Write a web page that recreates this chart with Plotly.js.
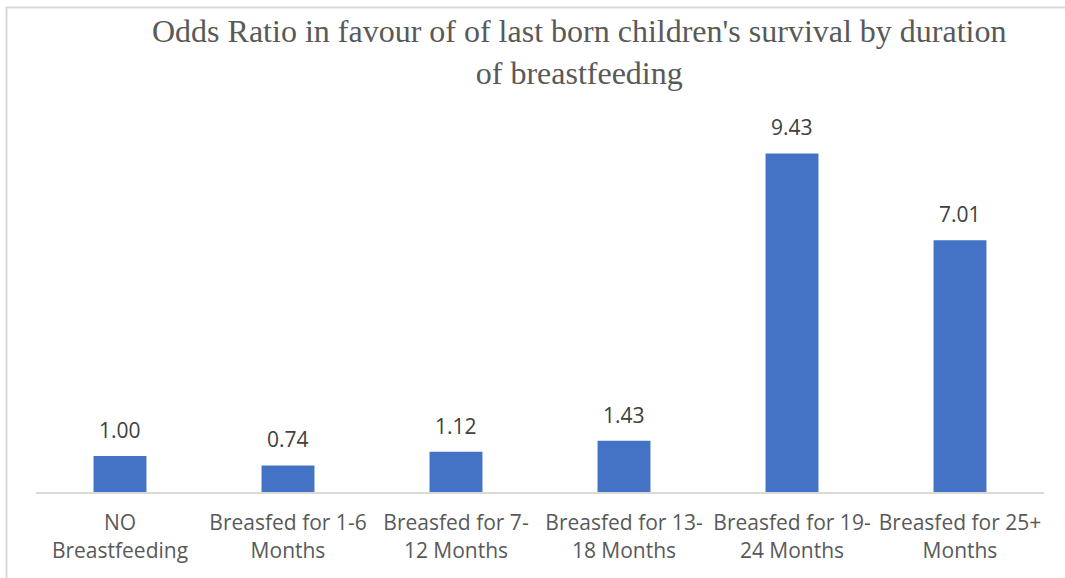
<!DOCTYPE html>
<html>
<head>
<meta charset="utf-8">
<script src="https://cdn.plot.ly/plotly-3.0.1.min.js"></script>
<style>
html, body { margin: 0; padding: 0; background: #ffffff; }
#chart { width: 1065px; height: 578px; }
</style>
</head>
<body>
<div id="chart"></div>
<script>
const categories = [
  "NO Breastfeeding",
  "Breasfed for 1-6 Months",
  "Breasfed for 7-12 Months",
  "Breasfed for 13-18 Months",
  "Breasfed for 19-24 Months",
  "Breasfed for 25+ Months"
];
const tickLabels = [
  "NO<br>Breastfeeding",
  "Breasfed for 1-6<br>Months",
  "Breasfed for 7-<br>12 Months",
  "Breasfed for 13-<br>18 Months",
  "Breasfed for 19-<br>24 Months",
  "Breasfed for 25+<br>Months"
];
const oddsRatio = [1.00, 0.74, 1.12, 1.43, 9.43, 7.01];
const chartTitle = "Odds Ratio in favour of of last born children's survival by duration<br>of breastfeeding";

const labelFont = { family: "Open Sans, sans-serif", size: 21, color: "#404040" };

const trace = {
  type: "bar",
  x: categories,
  y: oddsRatio,
  marker: { color: "#4472C4" },
  hoverinfo: "x+y"
};

const annotations = categories.map((c, i) => ({
  x: c,
  y: oddsRatio[i],
  xref: "x",
  yref: "y",
  text: oddsRatio[i].toFixed(2),
  showarrow: false,
  yanchor: "bottom",
  yshift: 10,
  font: labelFont
}));

annotations.push({
  xref: "paper",
  yref: "paper",
  x: 0.5387,
  y: 1.227,
  xanchor: "center",
  yanchor: "middle",
  showarrow: false,
  text: chartTitle,
  font: { family: "Liberation Serif, serif", size: 32, color: "#595959" }
});

const layout = {
  width: 1065,
  height: 578,
  paper_bgcolor: "#ffffff",
  plot_bgcolor: "#ffffff",
  margin: { l: 36, r: 21, t: 133, b: 86 },
  bargap: 0.685,
  showlegend: false,
  xaxis: {
    type: "category",
    tickvals: categories,
    ticktext: tickLabels,
    showline: true,
    linecolor: "#d9d9d9",
    linewidth: 2,
    ticks: "",
    showgrid: false,
    zeroline: false,
    tickfont: { family: "Open Sans, sans-serif", size: 21, color: "#595959" },
    ticklabelstandoff: 11
  },
  yaxis: {
    range: [0, 10],
    showticklabels: false,
    showgrid: false,
    zeroline: false,
    showline: false,
    ticks: ""
  },
  annotations: annotations,
  shapes: [
    {
      type: "path",
      xref: "paper",
      yref: "paper",
      path: "M -0.0293,-0.35 L -0.0293,1.3496 L 1.1,1.3496",
      line: { color: "#d9d9d9", width: 2 }
    }
  ]
};

Plotly.newPlot("chart", [trace], layout, { displayModeBar: false, staticPlot: true });
</script>
</body>
</html>
